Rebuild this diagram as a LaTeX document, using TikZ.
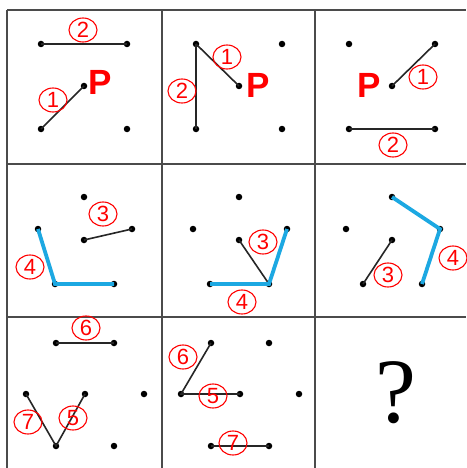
\documentclass[tikz,border=0pt]{standalone}
\usepackage{fontspec}
\setmainfont{Liberation Sans}
\newfontfamily\qfont{Liberation Serif}
\usetikzlibrary{shapes.geometric}
\definecolor{segblue}{RGB}{28,168,226}
\definecolor{gridgray}{RGB}{75,75,75}
\tikzset{
  dot/.style={circle,fill=black,inner sep=0pt,minimum size=6.5pt},
  num/.style={ellipse,draw=red,text=red,line width=1.1pt,minimum width=28pt,
    minimum height=24pt,inner sep=0pt,font=\fontsize{22}{22}\selectfont},
  pmark/.style={text=red,inner sep=0pt,font=\fontsize{35}{35}\selectfont\bfseries},
  seg/.style={line width=1.6pt,black!85},
  bseg/.style={line width=3.8pt,segblue},
  gridline/.style={line width=2pt,gridgray}
}
\begin{document}
\begin{tikzpicture}[x=1pt,y=-1pt]
\useasboundingbox (0,0) rectangle (466,468);
\fill[white] (0,0) rectangle (466,468);
        \foreach \y in {10,164,317}
\draw[gridline] (7,\y) -- (466,\y);
        \foreach \x in {7,162,315}
\draw[gridline] (\x,10) -- (\x,468);
        \foreach \k/\cx in {A/7,B/162,C/315}{
        \foreach \n/\x/\y in {tl/34/34,tr/120/34,c/77/76,bl/34/119,br/120/119}{
\node[dot] (\k\n) at (\cx+\x,10+\y) {};
}}
        \foreach \k/\cx in {D/7,E/162,F/315}{
        \foreach \n/\x/\y in {t/77/33,l/31/65,c/77/76,r/125/65,bl/48/120,br/107/120}{
\node[dot] (\k\n) at (\cx+\x,164+\y) {};
}}
        \foreach \k/\cx in {G/7,H/162}{
        \foreach \n/\x/\y in {tl/49/26,tr/107/26,l/19/77,c/78/77,r/137/77,bl/49/129,br/107/129}{
\node[dot] (\k\n) at (\cx+\x,317+\y) {};
}}
\draw[seg] (Atl.center) -- (Atr.center);
\draw[seg] (Abl.center) -- (Ac.center);
\draw[seg] (Btl.center) -- (Bc.center);
\draw[seg] (Btl.center) -- (Bbl.center);
\draw[seg] (Cc.center) -- (Ctr.center);
\draw[seg] (Cbl.center) -- (Cbr.center);
\draw[seg] (Dc.center) -- (Dr.center);
\draw[bseg] (Dl.center) -- (Dbl.center) -- (Dbr.center);
\draw[seg] (Ec.center) -- (Ebr.center);
\draw[bseg] (Ebl.center) -- (Ebr.center) -- (Er.center);
\draw[seg] (Fc.center) -- (Fbl.center);
\draw[bseg] (Ft.center) -- (Fr.center) -- (Fbr.center);
\draw[seg] (Gtl.center) -- (Gtr.center);
\draw[seg] (Gl.center) -- (Gbl.center) -- (Gc.center);
\draw[seg] (Htl.center) -- (Hl.center) -- (Hc.center);
\draw[seg] (Hbl.center) -- (Hbr.center);
\node[num] (A2) at (83,30) {2};
\node[num] (A1) at (53,100) {1};
\node[pmark] (AP) at (100,82) {P};
\node[num] (B1) at (227,57) {1};
\node[num] (B2) at (182,91) {2};
\node[pmark] (BP) at (258,85) {P};
\node[num] (C1) at (423,77) {1};
\node[num] (C2) at (393,145) {2};
\node[pmark] (CP) at (369,85) {P};
\node[num] (D3) at (103,214) {3};
\node[num] (D4) at (30,267) {4};
\node[num] (E3) at (263,242) {3};
\node[num] (E4) at (242,302) {4};
\node[num] (F3) at (388,275) {3};
\node[num] (F4) at (453,258) {4};
\node[num] (G6) at (86,328) {6};
\node[num] (G7) at (28,422) {7};
\node[num] (G5) at (73,418) {5};
\node[num] (H6) at (183,357) {6};
\node[num] (H5) at (213,396) {5};
\node[num] (H7) at (233,443) {7};
\node[inner sep=0pt,font=\qfont\fontsize{92}{92}\selectfont] (Q) at (396,393) {?};
    \end{tikzpicture}
\end{document}
